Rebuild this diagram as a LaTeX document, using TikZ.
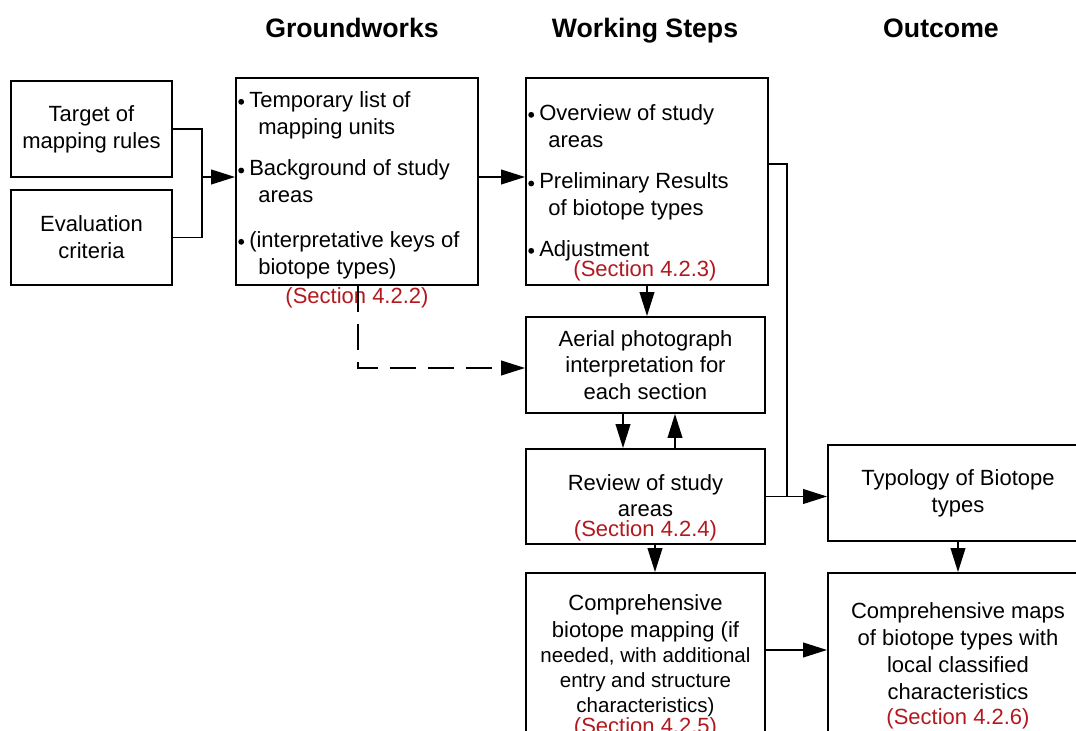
\documentclass[tikz,border=0pt]{standalone}
\usepackage{fontspec}
\setmainfont{Liberation Sans}
\usetikzlibrary{arrows.meta,calc}

\definecolor{secred}{RGB}{178,24,30}
\newcommand\bodyfont{\fontsize{16.5pt}{20.25pt}\selectfont}
\newcommand\smallbody{\fontsize{15.4pt}{18.75pt}\selectfont}
\newcommand\headfont{\fontsize{20pt}{24pt}\selectfont\bfseries}
% bullet and hanging indent for the list boxes
\newcommand\itemdot{\makebox[8.25pt][l]{\tikz[baseline=0pt]\fill (2.2pt,4pt) circle (2.2pt);}}
\newcommand\itemcont{\hspace*{15pt}}
\newcommand\sect[1]{{\color{secred}(Section #1)}}

\begin{document}
\begin{tikzpicture}[x=0.75pt,y=-0.75pt,
  box/.style={draw, line width=1.4pt, rectangle, inner sep=0pt, font=\bodyfont, align=center},
  listtext/.style={inner sep=0pt, font=\bodyfont, align=left, anchor=north west},
  boxtext/.style={inner sep=0pt, font=\bodyfont, align=center, anchor=north},
  seclabel/.style={inner sep=0pt, font=\bodyfont, text=secred},
  head/.style={inner sep=0pt, font=\headfont, anchor=base},
  conn/.style={line width=1.4pt},
  arr/.style={conn, -{Triangle[length=18pt,width=11pt]}},
  dashconn/.style={arr, dash pattern=on 19.5pt off 9pt}]

\useasboundingbox (0,0) rectangle (1076,731);
\clip (0,0) rectangle (1076,731);

% column headings
\node[head] (h1) at (352,37.5) {Groundworks};
\node[head] (h2) at (645,37.5) {Working Steps};
\node[head] (h3) at (941,37.5) {Outcome};

% groundworks
\node[box, minimum width=120.75pt, minimum height=72pt] (target) at (91.5,129) {Target of\\mapping rules};
\node[box, minimum width=120.75pt, minimum height=71.25pt] (eval) at (91.5,237.5) {Evaluation\\criteria};
\node[box, minimum width=181.5pt, minimum height=155.25pt] (gw) at (357,181.5) {};
\node[listtext] (gwtext) at (238,88) {\strut\itemdot Temporary list of\\
  \itemcont mapping units\\[11pt]
  \itemdot Background of study\\
  \itemcont areas\\[13pt]
  \itemdot(interpretative keys of\\
  \itemcont biotope types)};
\node[seclabel] (sec2) at (357,298) {(Section 4.2.2)};

% working steps
\node[box, minimum width=181.5pt, minimum height=155.25pt] (ws) at (647,181.5) {};
\node[listtext] (wstext) at (528,101) {\strut\itemdot Overview of study\\
  \itemcont areas\\[11pt]
  \itemdot Preliminary Results\\
  \itemcont of biotope types\\[10pt]
  \itemdot Adjustment};
\node[seclabel] (sec3) at (645,271) {(Section 4.2.3)};

\node[box, minimum width=179.25pt, minimum height=72pt] (aerial) at (645.5,365)
  {Aerial photograph\\[-0.5pt]interpretation for\\[-0.5pt]each section};

\node[box, minimum width=179.25pt, minimum height=71.25pt] (review) at (645.5,496.5) {};
\node[boxtext] (reviewtext) at (645.5,471) {\strut Review of study\\[-0.5pt]areas\\[-5pt]\sect{4.2.4}};

\node[box, minimum width=179.25pt, minimum height=140.25pt] (mapping) at (645.5,666.5) {};
\node[boxtext] (mappingtext) at (645.5,591) {\strut Comprehensive\\
  biotope mapping (if\\[-1.5pt]
  {\smallbody needed, with additional}\\[-1.5pt]
  {\smallbody entry and structure}\\[-1.5pt]
  {\smallbody characteristics)}\\[-4pt]
  \sect{4.2.5}};

% outcome
\node[box, minimum width=195pt, minimum height=72pt] (typo) at (958,493) {Typology of Biotope\\types};
\node[box, minimum width=195pt, minimum height=140.25pt] (maps) at (958,666.5) {};
\node[boxtext] (mapstext) at (958,599) {\strut Comprehensive maps\\
  of biotope types with\\
  local classified\\
  characteristics\\[-1.5pt]
  \sect{4.2.6}};

% connectors
\coordinate (jl) at (202,177);
\draw[conn] (target.east) -| (jl);
\draw[conn] (eval.east) -| (jl);
\draw[arr] (jl) -- (jl -| gw.west);
\draw[arr] (jl -| gw.east) -- (jl -| ws.west);

\draw[arr] (ws.south) -- (ws.south |- aerial.north);
\draw[arr] ($(aerial.south)+(-22.5,0)$) -- ($(review.north)+(-22.5,0)$);
\draw[arr] ($(review.north)+(29.5,0)$) -- ($(aerial.south)+(29.5,0)$);
\draw[arr] ($(review.south)+(9.5,0)$) -- ($(mapping.north)+(9.5,0)$);

\coordinate (jr) at (787,496.5);
\draw[conn] ($(ws.east)+(0,-17.5)$) -| (jr);
\draw[arr] (review.east) -- (review.east -| typo.west);
\draw[arr] (typo.south) -- (maps.north);
\draw[arr] ($(mapping.east)+(0,-16.5)$) -- ($(maps.west)+(0,-16.5)$);

\draw[dashconn] ($(gw.south)+(1,0)$) |- ($(aerial.west)+(0,3)$);
\end{tikzpicture}
\end{document}
